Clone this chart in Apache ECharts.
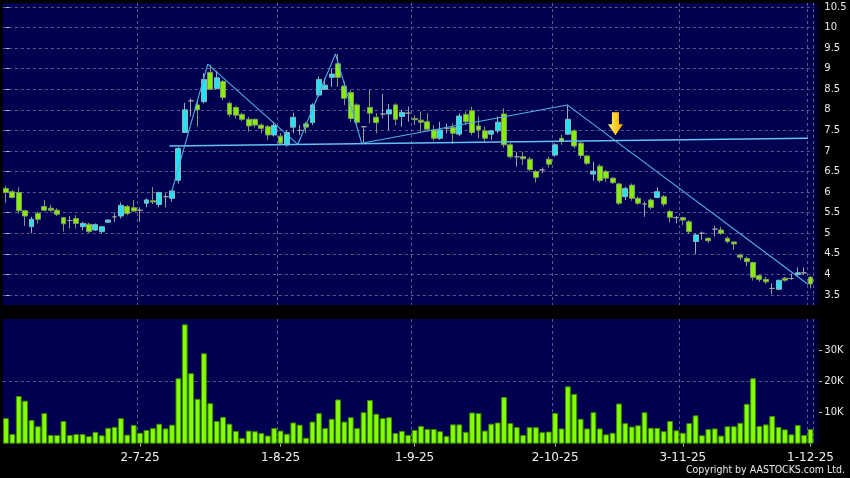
<!DOCTYPE html>
<html><head><meta charset="utf-8">
<script src="https://cdn.jsdelivr.net/npm/echarts@6/dist/echarts.min.js"></script>
<style>html,body{margin:0;padding:0;background:#000;}#c{width:850px;height:478px;}</style>
</head><body><div id="c"></div><script>
// trading days, 2025 (month -> days)
const tradingDays = {
  6:[2,3,4,5,6,9,10,11,12,13,16,17,18,19,20,23,24,25,26,27,30],
  7:[2,3,4,7,8,9,10,11,14,15,16,17,18,21,22,23,24,25,28,29,30,31],
  8:[1,4,5,6,7,8,11,12,13,14,15,18,19,20,21,22,25,26,27,28,29],
  9:[1,2,3,4,5,8,9,10,11,12,15,16,17,18,19,22,23,24,25,26,29,30],
  10:[2,3,6,8,9,10,13,14,15,16,17,20,21,22,23,24,27,28,30,31],
  11:[3,4,5,6,7,10,11,12,13,14,17,18,19,20,21,24,25,26,27,28],
  12:[1]
};
const tickLabels = ['2-7-25','1-8-25','1-9-25','2-10-25','3-11-25','1-12-25'];

const open = [6.09,6.01,5.99,5.55,5.16,5.48,5.65,5.61,5.56,5.38,
 5.31,5.36,5.16,5.22,5.08,5.04,5.27,5.40,5.42,5.65,
 5.62,5.56,5.73,5.79,5.70,5.89,5.85,6.29,7.45,8.22,
 8.12,8.20,8.91,8.52,8.69,8.16,8.06,7.89,7.77,7.77,
 7.63,7.59,7.39,7.36,7.15,7.58,7.50,7.66,7.69,8.36,
 8.50,8.79,9.12,8.58,8.42,8.12,7.59,8.06,7.82,7.90,
 7.90,8.12,7.84,7.92,7.79,7.75,7.71,7.51,7.31,7.55,
 7.57,7.41,7.89,7.98,7.61,7.49,7.41,7.49,7.90,7.15,
 6.86,6.86,6.80,6.50,6.54,6.80,6.90,7.31,7.41,7.49,
 7.19,6.88,6.44,6.63,6.50,6.34,6.20,5.89,6.17,5.85,
 5.71,5.81,5.87,5.89,5.53,5.38,5.38,5.28,4.80,5.00,
 4.88,5.10,5.08,4.88,4.79,4.47,4.39,4.29,3.97,3.88,
 3.66,3.64,3.91,3.90,4.00,4.04,3.93];
const close = [5.99,5.87,5.55,5.42,5.34,5.34,5.56,5.56,5.46,5.23,
 5.31,5.24,5.24,5.04,5.21,5.16,5.32,5.40,5.68,5.48,
 5.54,5.56,5.81,5.76,5.99,5.89,6.03,7.06,8.00,8.22,
 8.00,8.74,8.50,8.78,8.30,7.89,7.87,7.77,7.61,7.63,
 7.55,7.39,7.62,7.19,7.45,7.82,7.50,7.58,8.12,8.74,
 8.60,8.87,8.79,8.28,7.79,7.70,7.59,7.92,7.69,7.90,
 8.00,7.77,7.94,7.92,7.76,7.70,7.53,7.31,7.51,7.55,
 7.43,7.85,7.71,7.45,7.51,7.31,7.49,7.70,7.15,6.86,
 6.86,6.81,6.55,6.36,6.54,6.68,7.15,7.23,7.77,7.12,
 6.89,6.70,6.51,6.28,6.34,6.23,5.73,6.09,5.85,5.73,
 5.71,5.63,6.01,5.71,5.39,5.38,5.32,5.04,4.96,5.00,
 4.82,5.10,5.00,4.80,4.74,4.42,4.31,3.93,3.88,3.82,
 3.66,3.86,3.86,3.90,4.04,4.04,3.77];
const low = [5.74,5.85,5.48,5.18,5.00,5.24,5.53,5.53,5.42,5.04,
 5.12,5.12,5.08,5.01,5.06,5.00,5.25,5.28,5.36,5.44,
 5.53,5.28,5.63,5.71,5.63,5.63,5.77,6.21,7.45,7.84,
 7.59,8.16,8.48,8.50,8.24,7.83,7.79,7.73,7.47,7.57,
 7.43,7.27,7.35,7.15,7.11,7.43,7.39,7.43,7.63,8.32,
 8.48,8.56,8.56,8.12,7.71,7.63,7.19,7.67,7.43,7.79,
 7.51,7.63,7.59,7.71,7.63,7.47,7.47,7.25,7.27,7.43,
 7.17,7.36,7.63,7.39,7.31,7.23,7.27,7.43,7.08,6.82,
 6.62,6.66,6.50,6.23,6.46,6.60,6.86,7.15,7.39,7.06,
 6.82,6.66,6.28,6.23,6.25,6.20,5.69,5.81,5.79,5.69,
 5.40,5.58,5.85,5.65,5.26,5.24,5.20,4.98,4.50,4.84,
 4.77,4.92,4.96,4.76,4.60,4.35,4.20,3.85,3.82,3.77,
 3.52,3.62,3.82,3.87,3.95,3.99,3.66];
const high = [6.15,6.05,6.12,5.55,5.40,5.52,5.81,5.69,5.61,5.40,
 5.42,5.44,5.28,5.26,5.24,5.18,5.34,5.50,5.75,5.69,
 5.81,5.63,5.85,6.12,6.01,5.97,6.05,7.10,8.17,8.28,
 8.24,8.89,9.10,8.95,8.73,8.20,8.09,7.93,7.83,7.79,
 7.67,7.63,7.71,7.43,7.51,7.93,7.63,7.71,8.16,8.81,
 8.77,9.01,9.36,8.69,8.48,8.16,7.60,8.50,7.92,8.39,
 8.14,8.16,8.00,8.08,7.87,7.96,7.92,7.63,7.71,7.67,
 7.67,7.92,7.96,8.08,7.84,7.59,7.51,7.84,8.04,7.19,
 6.98,6.98,6.86,6.54,6.60,6.86,7.19,7.39,8.12,7.53,
 7.23,6.90,6.74,6.68,6.54,6.36,6.23,6.13,6.21,5.89,
 5.77,5.85,6.12,5.93,5.57,5.42,5.40,5.32,5.00,5.04,
 4.90,5.18,5.16,4.92,4.79,4.51,4.43,4.31,3.99,3.94,
 3.78,3.86,3.94,4.02,4.17,4.17,3.96];
// volume in thousands
const volumeK = [8.2,3.1,15.3,13.8,7.6,5.6,9.8,2.8,2.8,7.3,
 2.8,3.1,3.1,2.4,3.8,2.7,5.1,5.4,8.2,2.9,
 6.0,3.5,4.4,5.0,6.4,4.9,6.1,21.0,38.3,22.6,
 14.4,29.0,13.0,7.3,8.6,6.4,4.1,1.8,4.2,4.0,
 3.4,2.6,5.0,4.2,3.2,6.8,6.1,1.9,7.1,9.8,
 5.0,8.0,14.2,7.1,8.5,5.0,10.1,14.0,9.6,8.2,
 8.5,3.4,4.1,2.8,4.4,5.7,4.7,4.7,4.0,2.5,
 6.2,6.2,3.8,10.0,9.8,4.2,6.4,6.8,15.0,6.6,
 5.3,2.8,5.3,5.3,3.7,3.9,9.9,4.9,18.4,16.0,
 8.0,4.9,10.1,4.9,3.0,3.5,12.9,6.6,5.5,5.9,
 10.1,5.1,5.1,4.0,7.3,4.3,3.5,6.6,9.1,2.7,
 4.7,4.9,2.6,5.6,5.6,6.7,12.8,21.0,5.7,6.2,
 8.9,5.4,4.6,3.0,6.0,2.8,4.7];
// drawn trend lines: [bar index, price]
const neckline = [[25.6,7.12],[125.6,7.31]];
const patternLine = [[25.9,5.98],[31.6,9.11],[45.7,7.16],[51.6,9.36],[55.7,7.19],[87.9,8.12],[125.6,3.76]];
const arrowMark = [[95.45,7.66]];

const categories = [];
Object.keys(tradingDays).forEach(m => tradingDays[m].forEach(d => categories.push(d + '-' + m + '-25')));

const UP = '#1fe4f4', DOWN = '#86ee00', DOJI = '#a0a0a0';
const NAVY = '#000050', GRID = '#5a5a90';
const candleData = categories.map((c, i) => {
  const v = [open[i], close[i], low[i], high[i]];
  if (open[i] === close[i]) return {value: v, itemStyle: {color: DOJI, color0: DOJI, borderColor: DOJI, borderColor0: DOJI}};
  return v;
});
const isTick = (idx, val) => tickLabels.indexOf(val) >= 0;

const L = 2.8, W = 810.9;
const shade = new echarts.graphic.LinearGradient(0, 0, 1, 0, [{offset: 0, color: NAVY}, {offset: 1, color: '#000000'}]);
const chart = echarts.init(document.getElementById('c'), null, {renderer: 'canvas'});
chart.setOption({
  animation: false,
  backgroundColor: '#000',
  textStyle: {fontFamily: 'DejaVu Sans'},
  grid: [
    {left: L, width: W, top: 7, height: 288},
    {left: L, width: W, top: 319, height: 124.7, show: true, backgroundColor: NAVY, borderWidth: 0},
    {left: L, width: W, top: 3, height: 302, show: true, backgroundColor: NAVY, borderWidth: 0, z: -1}
  ],
  xAxis: [
    {type: 'category', gridIndex: 0, data: categories, show: false},
    {type: 'category', gridIndex: 1, data: categories, offset: 3,
     axisLine: {show: false},
     axisTick: {show: true, alignWithLabel: true, interval: isTick, length: 3, lineStyle: {color: '#b0b0b0'}},
     axisLabel: {interval: isTick, color: '#f0f0f0', fontSize: 12, margin: 5, fontFamily: 'DejaVu Sans'},
     splitLine: {show: true, interval: isTick, lineStyle: {color: GRID, type: [3, 3], width: 1}}},
    {type: 'category', gridIndex: 2, data: categories, z: -1,
     axisLine: {show: false}, axisTick: {show: false}, axisLabel: {show: false},
     splitLine: {show: true, interval: isTick, lineStyle: {color: GRID, type: [3, 3], width: 1}}},
    {type: 'value', gridIndex: 0, min: -0.5, max: categories.length - 0.5, show: false}
  ],
  yAxis: [
    {type: 'value', gridIndex: 0, position: 'right', min: 3.5, max: 10.5, interval: 0.5, offset: 5.3,
     axisLine: {show: false},
     axisTick: {show: true, length: 3, lineStyle: {color: '#c0c0c0'}},
     axisLabel: {color: '#e8e8e8', fontSize: 10, margin: 5.3, fontFamily: 'DejaVu Sans'},
     splitLine: {show: true, lineStyle: {color: GRID, type: [3, 3], width: 1}}},
    {type: 'value', gridIndex: 1, position: 'right', min: 0, max: 40, interval: 10, offset: 5.3,
     axisLine: {show: false},
     axisTick: {show: true, length: 3, customValues: [10, 20, 30], lineStyle: {color: '#c0c0c0'}},
     axisLabel: {color: '#e8e8e8', fontSize: 10, margin: 5.3, fontFamily: 'DejaVu Sans', customValues: [10, 20, 30],
                 formatter: v => v + 'K'},
     splitLine: {show: true, showMinLine: false, showMaxLine: false, lineStyle: {color: GRID, type: [3, 3], width: 1}}},
    {type: 'value', gridIndex: 2, min: 0, max: 1, show: false}
  ],
  series: [
    {type: 'candlestick', xAxisIndex: 0, yAxisIndex: 0, data: candleData, barWidth: 5.4,
     itemStyle: {color: UP, color0: DOWN, borderColor: '#8fb3b8', borderColor0: '#7f9a66', borderWidth: 1}},
    {type: 'bar', xAxisIndex: 1, yAxisIndex: 1, data: volumeK, barWidth: 5.8,
     itemStyle: {color: '#84ff00', borderColor: '#3f8a00', borderWidth: 1}},
    {type: 'line', xAxisIndex: 3, yAxisIndex: 0, data: neckline, symbol: 'none', z: 3,
     lineStyle: {color: '#63c1f0', width: 1.5}},
    {type: 'line', xAxisIndex: 3, yAxisIndex: 0, data: patternLine, symbol: 'none', z: 3,
     lineStyle: {color: '#4fb0e6', width: 1.1}},
    {type: 'scatter', xAxisIndex: 3, yAxisIndex: 0, data: arrowMark, z: 4,
     symbol: 'path://M4,0 L11,0 L11,12 L15,12 L7.5,23 L0,12 L4,12 Z', symbolSize: [15, 23],
     itemStyle: {opacity: 1, color: new echarts.graphic.LinearGradient(0, 0, 1, 0, [{offset: 0, color: '#fff4a0'}, {offset: 0.4, color: '#ffd633'}, {offset: 1, color: '#ffa800'}])}}
  ],
  graphic: [
    {type: 'rect', z: -5, shape: {x: L + W, y: 3, width: 7, height: 302}, style: {fill: shade}},
    {type: 'rect', z: -5, shape: {x: L + W, y: 319, width: 7, height: 124.7}, style: {fill: shade}},
    {type: 'text', right: 5, bottom: 2, style: {text: 'Copyright by AASTOCKS.com Ltd.', fill: '#e8e8e8', font: '10.5px "DejaVu Sans Condensed"'}}
  ]
});
</script></body></html>
